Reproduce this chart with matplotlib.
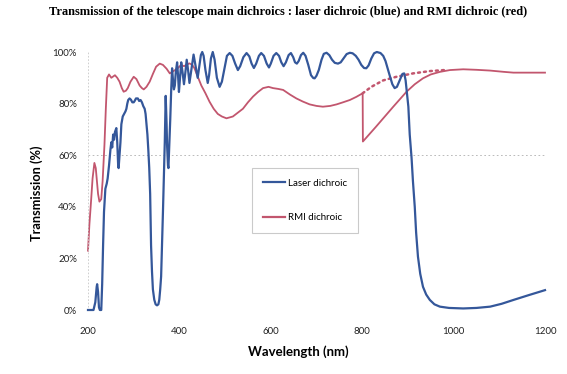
import matplotlib
matplotlib.use("Agg")
import matplotlib.pyplot as plt

# laser dichroic (blue)
laser_wl = [200, 212, 216, 219, 220, 222, 224, 226, 229, 231, 233, 235, 238, 241, 243, 246, 249, 251, 253, 255,
            257, 259, 262, 264, 266, 267, 269, 271, 273, 276, 279, 282, 284, 286, 288, 291, 294, 297, 300, 302,
            305, 309, 312, 315, 318, 321, 324, 326, 328, 330, 332, 334, 336, 337, 338, 340, 342, 345, 348, 351,
            354, 356, 358, 360, 362, 364, 366, 368, 370, 372, 373, 375, 376, 378, 380, 382, 384, 386, 388, 390,
            392, 395, 397, 399, 401, 404, 407, 410, 413, 416, 419, 422, 426, 431, 434, 440, 444, 447, 450, 453,
            457, 462, 465, 469, 473, 477, 482, 488, 493, 498, 504, 510, 516, 522, 528, 533, 540, 547, 553, 558,
            563, 568, 574, 579, 585, 591, 596, 600, 606, 612, 618, 623, 628, 633, 639, 644, 649, 653, 657, 661,
            666, 671, 676, 682, 688, 693, 696, 700, 705, 711, 716, 722, 728, 734, 740, 747, 753, 759, 766, 773,
            779, 786, 792, 798, 804, 809, 814, 820, 826, 832, 840, 846, 851, 855, 860, 866, 871, 876, 882, 888,
            892, 895, 898, 901, 904, 908, 911, 915, 918, 922, 927, 933, 940, 948, 958, 970, 990, 1021, 1050, 1080,
            1105, 1131, 1165, 1200]
laser_t = [0, 0, 3, 9, 10, 7, 1, 0, 0, 10, 25, 38, 47, 49, 51, 56, 62, 65, 63, 68,
           66, 69, 70.5, 65, 56, 55, 60, 65, 72, 75, 76, 77, 78, 80, 81.4, 82, 81.5, 80.5, 80.5, 81,
           82, 82, 81, 81.4, 80.5, 79, 78, 76, 72, 68, 62, 55, 45, 35, 25, 15, 8, 4, 2.2, 1.8,
           2.2, 4, 8, 13, 25, 38, 52, 65, 83, 72, 64, 56, 55, 64, 74, 85, 93.7, 89, 85.5, 87,
           92, 96, 91, 84.5, 89, 96, 92, 87.5, 92, 97, 93, 88, 93, 99, 96, 90, 95, 98.8, 100, 98.5,
           93, 88, 91, 97.5, 100, 97, 90, 86.5, 88.5, 93, 98.5, 99.6, 98.5, 95.5, 93, 94.5, 98, 99.6, 98.3, 95.5,
           93.8, 95.5, 98.5, 99.6, 98.5, 95.5, 94, 95.5, 98.5, 99.6, 98.5, 96, 94.5, 96, 98.8, 99.6, 98, 96, 95.5, 96.5,
           98.8, 99.7, 98.5, 95, 91, 89.9, 89.8, 90.8, 93, 97, 99.3, 99.7, 98.8, 97, 95.8, 95.5, 96, 97.5, 99.2, 99.7,
           99.5, 98.5, 97, 95, 93.8, 93.7, 94.8, 97.5, 99.5, 100, 99.6, 98.5, 96.5, 94, 91, 87.5, 86, 86.5, 89, 91.5,
           91.7, 89, 84, 78.8, 68, 59, 50, 40, 30, 20.7, 14, 9, 6, 3.9, 2.2, 1.3, 0.8, 0.6, 0.8, 1.3,
           2.4, 3.9, 5.8, 7.7]

# RMI dichroic (red), measured part
rmi_wl = [200, 203, 207, 210, 214, 217, 219, 222, 225, 229, 232, 236, 239, 242, 246, 251, 255, 259, 264, 269,
          274, 278, 283, 287, 293, 300, 306, 313, 318, 322, 328, 335, 342, 349, 357, 364, 372, 379, 386, 395,
          404, 410, 415, 422, 428, 433, 440, 448, 457, 466, 475, 484, 493, 503, 517, 528, 539, 550, 561, 572,
          583, 595, 605, 616, 627, 642, 656, 670, 685, 700, 714, 730, 744, 758, 773, 787, 801, 801.5, 830, 868,
          897, 915, 933, 950, 970, 992, 1021, 1050, 1080, 1110, 1131, 1160, 1200]
rmi_t = [23, 33, 43, 51, 57, 55, 51, 45, 42, 43, 50, 64, 78, 90, 91.3, 90, 90.5, 91, 90, 88.5,
         86, 84.6, 85, 86, 88.5, 90.4, 89.5, 87, 86, 85.5, 86.5, 88.5, 91.5, 94.3, 95.5, 95, 93.5, 91.7, 92.5, 93.5,
         95, 94.5, 95, 95.6, 95, 93.7, 90.5, 87, 84, 80.7, 78, 76, 75, 74.3, 75, 76.5, 78, 80.5, 82.7, 84.5,
         86, 86.5, 86, 85.7, 85.3, 83.5, 82, 80.8, 79.7, 79.1, 78.8, 79.1, 79.7, 80.5, 81.4, 82.6, 84, 65.3, 71, 78.8,
         84.6, 87.5, 89.8, 91.3, 92.3, 93, 93.3, 93.1, 92.8, 92.3, 92, 92, 92]

# RMI dichroic, dotted continuation
rmi_dot_wl = [801, 820, 846, 875, 911, 948, 980]
rmi_dot_t = [84, 86.5, 89, 90.4, 91.7, 92.6, 93]

x_ticks = [200, 400, 600, 800, 1000, 1200]
y_ticks = [0, 20, 40, 60, 80, 100]

blue = "#34579a"
red = "#c2566e"

fig = plt.figure(figsize=(5.67, 3.74), dpi=100)
ax = fig.add_axes([88 / 567, 64 / 374, 457 / 567, 258 / 374])

ax.plot(laser_wl, laser_t, color=blue, lw=1.6, label="Laser dichroic", clip_on=False, zorder=3,
        solid_joinstyle="round")
ax.plot(rmi_wl, rmi_t, color=red, lw=1.3, label="RMI dichroic", clip_on=False, zorder=2,
        solid_joinstyle="round")
ax.plot(rmi_dot_wl, rmi_dot_t, color=red, lw=1.8, ls=(0, (0.8, 1.6)), dash_capstyle="round", zorder=2)

ax.axhline(60, color="#b0b0b0", lw=0.6, ls=(0, (2, 3)), zorder=0)

ax.set_xlim(200, 1200)
ax.set_ylim(0, 100)
ax.set_xticks(x_ticks)
ax.set_yticks(y_ticks)
ax.set_yticklabels([f"{v}%" for v in y_ticks])
ax.tick_params(length=0, labelsize=7, colors="#222222")
ax.tick_params(axis="x", pad=12)
ax.tick_params(axis="y", pad=8)
for lab in ax.get_xticklabels() + ax.get_yticklabels():
    lab.set_family("Lato")

for s in ["top", "right", "bottom"]:
    ax.spines[s].set_visible(False)
ax.spines["left"].set_color("#c8c8c8")
ax.spines["left"].set_linestyle((0, (1, 3)))
ax.spines["left"].set_linewidth(0.6)

fig.text(0.508, 0.968, "Transmission of the telescope main dichroics : laser dichroic (blue) and RMI dichroic (red)",
         ha="center", va="center", family="Liberation Serif", fontweight="bold", fontsize=8.9)
fig.text(298 / 567, 1 - 352 / 374, "Wavelength (nm)", ha="center", va="center",
         family="Lato", fontweight="bold", fontsize=9.5)
fig.text(37 / 567, 1 - 193 / 374, "Transmission (%)", ha="center", va="center", rotation=90,
         family="Lato", fontweight="bold", fontsize=9.2)

leg = ax.legend(loc="upper left", bbox_to_anchor=(252 / 567, 1 - 168 / 374), bbox_transform=fig.transFigure,
                prop={"family": "Lato", "size": 7}, fancybox=False, edgecolor="#bdbdbd",
                labelspacing=2.6, handlelength=2.3, handletextpad=0.3, borderpad=1.1, borderaxespad=0)
leg.get_frame().set_linewidth(0.8)
for h in leg.get_lines():
    h.set_linewidth(1.6)

fig.savefig("out.png", dpi=100)
